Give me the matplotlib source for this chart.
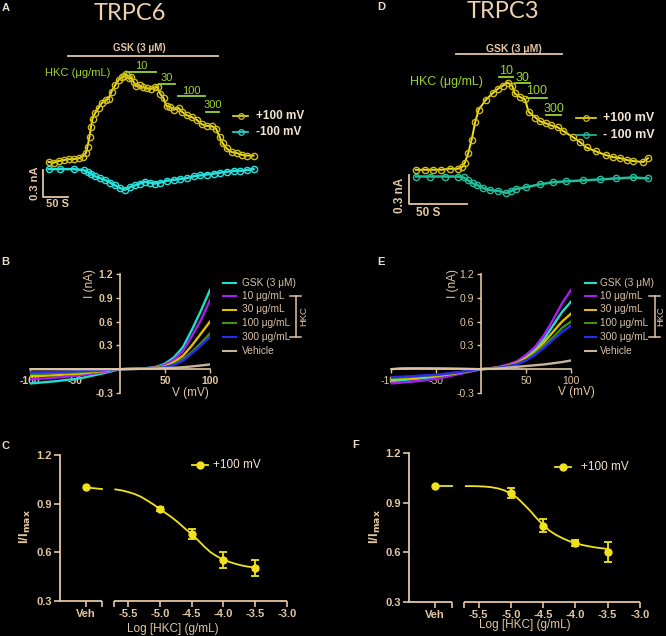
import matplotlib
matplotlib.use('Agg')
import matplotlib.pyplot as plt
from matplotlib.lines import Line2D

plt.rcParams['font.family'] = ['Liberation Sans', 'DejaVu Sans']

W, H = 666, 636
TAN = '#E3C6A2'
LIGHT = '#F2E4D2'
LEG = '#D8C2A6'
GREEN = '#9CD431'
YEL = '#F2E21E'
YEL_EDGE = '#D2BE12'
CYAN = '#26E2DC'
TEAL = '#1FBF9C'

# ---------------- A: TRPC6 time course (time in s, current in nA)
a_pos_t = [1, 11, 21, 31, 41, 51, 61, 69, 76, 79, 83, 86, 89, 94, 101, 107, 116, 121,
           127, 134, 141, 147, 152, 156, 161, 165, 171, 176, 183, 189, 197, 205, 214,
           219, 224, 231, 237, 244, 252, 261, 267, 277, 287, 297, 307, 317, 327, 336,
           343, 349, 357, 367, 377, 387, 397, 411]
a_pos_i = [0.09, 0.08, 0.10, 0.11, 0.12, 0.12, 0.13, 0.15, 0.19, 0.26, 0.37, 0.48, 0.57,
           0.63, 0.69, 0.74, 0.78, 0.79, 0.87, 0.94, 1.00, 1.03, 1.04, 1.07, 1.02, 1.03,
           0.98, 0.93, 0.94, 0.92, 0.91, 0.90, 0.92, 0.92, 0.85, 0.80, 0.71, 0.70, 0.67,
           0.69, 0.65, 0.61, 0.59, 0.56, 0.51, 0.49, 0.49, 0.46, 0.37, 0.30, 0.24, 0.20,
           0.19, 0.17, 0.16, 0.16]
a_neg_t = [1, 24, 51, 71, 79, 85, 94, 104, 114, 124, 134, 144, 154, 164, 174, 184, 194,
           204, 214, 224, 237, 251, 264, 277, 291, 304, 317, 331, 344, 357, 371, 384, 397, 411]
a_neg_i = [0.01, 0.01, 0.01, 0.0, -0.02, -0.04, -0.07, -0.09, -0.11, -0.14, -0.17, -0.20,
           -0.22, -0.19, -0.17, -0.15, -0.13, -0.14, -0.15, -0.14, -0.12, -0.11, -0.10,
           -0.09, -0.07, -0.06, -0.05, -0.04, -0.03, -0.02, -0.01, -0.01, 0.0, 0.01]

# ---------------- D: TRPC3 time course
d_pos_t = [0, 8, 15, 22, 29, 36, 40, 42, 45, 48, 51, 54, 60, 66, 71, 75, 79, 83, 85, 90,
           94, 97, 103, 107, 112, 116, 122, 127, 135, 141, 147, 155, 164, 170, 176, 182,
           187, 196, 200]
d_pos_i = [0.07, 0.07, 0.07, 0.07, 0.08, 0.08, 0.10, 0.14, 0.24, 0.38, 0.56, 0.69, 0.79,
           0.86, 0.91, 0.94, 0.97, 0.94, 0.86, 0.82, 0.80, 0.67, 0.61, 0.57, 0.55, 0.53,
           0.51, 0.47, 0.41, 0.36, 0.30, 0.26, 0.22, 0.20, 0.19, 0.17, 0.16, 0.15, 0.19]
d_neg_t = [0, 12, 25, 36, 41, 45, 49, 53, 58, 64, 71, 78, 82, 86, 95, 107, 118, 129, 144,
           159, 172, 187, 200]
d_neg_i = [0.0, 0.0, 0.0, 0.0, -0.01, -0.04, -0.07, -0.09, -0.12, -0.14, -0.15, -0.17,
           -0.15, -0.13, -0.11, -0.08, -0.06, -0.05, -0.04, -0.03, -0.02, -0.01, -0.02]

hkc_doses = ['10', '30', '100', '300']

# ---------------- B / E: I-V curves (mV, nA)
iv_v = [-100, -90, -80, -70, -60, -50, -40, -30, -20, -10, 0,
        10, 20, 30, 40, 50, 60, 70, 80, 90, 100]
b_gsk = [-0.18, -0.17, -0.16, -0.15, -0.135, -0.125, -0.105, -0.08, -0.055, -0.028, 0,
         0.005, 0.008, 0.015, 0.03, 0.07, 0.15, 0.28, 0.5, 0.74, 1.0]
b_10 = [-0.13, -0.12, -0.115, -0.105, -0.095, -0.085, -0.07, -0.055, -0.04, -0.02, 0,
        0.004, 0.007, 0.012, 0.025, 0.055, 0.12, 0.23, 0.42, 0.62, 0.87]
b_30 = [-0.09, -0.085, -0.08, -0.075, -0.065, -0.06, -0.05, -0.035, -0.025, -0.012, 0,
        0.003, 0.005, 0.01, 0.018, 0.035, 0.09, 0.17, 0.3, 0.45, 0.6]
b_100 = [-0.06, -0.055, -0.05, -0.048, -0.045, -0.04, -0.032, -0.025, -0.017, -0.008, 0,
         0.002, 0.004, 0.008, 0.013, 0.025, 0.065, 0.125, 0.22, 0.33, 0.45]
b_300 = [-0.04, -0.038, -0.036, -0.034, -0.03, -0.027, -0.022, -0.017, -0.012, -0.006, 0,
         0.002, 0.004, 0.007, 0.012, 0.022, 0.055, 0.105, 0.2, 0.3, 0.41]
b_veh = [0.0, 0.0, 0.0, 0.0, 0.0, 0.0, 0.0, 0.0, 0.0, 0.0, 0,
         0.002, 0.004, 0.006, 0.009, 0.013, 0.018, 0.025, 0.035, 0.047, 0.06]

e_gsk = [-0.15, -0.14, -0.13, -0.12, -0.11, -0.1, -0.085, -0.065, -0.045, -0.022, 0,
         0.01, 0.025, 0.05, 0.09, 0.16, 0.25, 0.38, 0.55, 0.72, 0.85]
e_10 = [-0.18, -0.17, -0.16, -0.15, -0.135, -0.12, -0.1, -0.075, -0.05, -0.025, 0,
        0.012, 0.03, 0.06, 0.1, 0.18, 0.28, 0.43, 0.62, 0.83, 1.0]
e_30 = [-0.13, -0.125, -0.115, -0.105, -0.095, -0.085, -0.072, -0.055, -0.038, -0.019, 0,
        0.01, 0.022, 0.045, 0.08, 0.14, 0.22, 0.34, 0.47, 0.6, 0.7]
e_100 = [-0.11, -0.105, -0.098, -0.09, -0.082, -0.074, -0.062, -0.048, -0.033, -0.016, 0,
         0.009, 0.02, 0.04, 0.07, 0.12, 0.2, 0.3, 0.4, 0.52, 0.6]
e_300 = [-0.1, -0.095, -0.09, -0.083, -0.076, -0.068, -0.057, -0.044, -0.03, -0.015, 0,
         0.008, 0.018, 0.036, 0.06, 0.11, 0.18, 0.27, 0.37, 0.47, 0.55]
e_veh = [0.0, 0.01, 0.012, 0.012, 0.012, 0.011, 0.01, 0.008, 0.006, 0.003, 0,
         0.005, 0.01, 0.02, 0.03, 0.04, 0.05, 0.06, 0.075, 0.09, 0.11]

iv_labels = ['GSK (3 μM)', '10 μg/mL', '30 μg/mL', '100 μg/mL', '300 μg/mL', 'Vehicle']
iv_colors = ['#1EE0CC', '#A81EEE', '#E2C000', '#3F9010', '#2A2AF0', '#C8B49A']

# ---------------- C / F: concentration response (log g/mL, I/Imax)
dr_x = [-5.0, -4.5, -4.0, -3.5]
c_mean = [0.867, 0.713, 0.553, 0.504]
c_err = [0.01, 0.03, 0.05, 0.05]
f_mean = [0.959, 0.76, 0.657, 0.60]
f_err = [0.03, 0.04, 0.02, 0.06]
veh_mean = 1.0
fit_x = [-5.7, -5.6, -5.5, -5.4, -5.3, -5.2, -5.1, -5.0, -4.9, -4.8, -4.7, -4.6,
         -4.5, -4.4, -4.3, -4.2, -4.1, -4.0, -3.9, -3.8, -3.7, -3.6, -3.5]
c_fit = [0.988, 0.982, 0.972, 0.96, 0.943, 0.92, 0.895, 0.867, 0.84, 0.812, 0.78, 0.745,
         0.713, 0.675, 0.635, 0.6, 0.575, 0.555, 0.54, 0.528, 0.518, 0.511, 0.506]
f_fit = [1.0, 1.0, 0.999, 0.997, 0.993, 0.986, 0.974, 0.955, 0.928, 0.89, 0.85, 0.805,
         0.765, 0.73, 0.705, 0.685, 0.668, 0.655, 0.645, 0.637, 0.63, 0.625, 0.62]
c_veh_line = [1.0, 0.99]
f_veh_line = [1.0, 1.0]
dr_ticks = [-5.5, -5.0, -4.5, -4.0, -3.5, -3.0]

fig = plt.figure(figsize=(W / 100, H / 100), dpi=100, facecolor='black')


def fx(x):
    return x / W


def fy(y):
    return 1 - y / H


def add_ax(x0, y0, x1, y1):
    ax = fig.add_axes([fx(x0), fy(y1), (x1 - x0) / W, (y1 - y0) / H])
    ax.set_facecolor('none')
    return ax


def trace_panel(box, xlim, ylim, pos, neg, neg_col):
    ax = add_ax(*box)
    ax.set_xlim(xlim)
    ax.set_ylim(ylim)
    ax.axis('off')
    ax.plot(neg[0], neg[1], color=neg_col, lw=1.8, marker='o', ms=4.5, mfc='none',
            mec=neg_col, mew=1.0)
    ax.plot(pos[0], pos[1], color=YEL, lw=1.4, marker='o', ms=4.5, mfc='none',
            mec=YEL_EDGE, mew=1.0)
    return ax


def dose_bars(ax, bars, fs):
    # bars: (t0, t1, y_bar, y_text, label)
    for t0, t1, yb, yt, lab in bars:
        ax.plot([t0, t1], [yb, yb], color=GREEN, lw=1.3)
        ax.text((t0 + t1) / 2, yt, lab, color=GREEN, fontsize=fs, ha='center', va='center')


def trace_legend(ax, t0, t1, tt, ys, labels, cols, edges, fs):
    for y, lab, c, e in zip(ys, labels, cols, edges):
        ax.plot([t0, t1], [y, y], color=c, lw=1.2)
        ax.plot([(t0 + t1) / 2], [y], 'o', ms=4, mfc='none', mec=e, mew=0.9)
        ax.text(tt, y, lab, color=LIGHT, fontsize=fs, fontweight='bold', va='center')


# ---- panel A
axA = trace_panel((0, 30, 333, 215), (-96, 570), (-0.5, 1.556),
                  (a_pos_t, a_pos_i), (a_neg_t, a_neg_i), CYAN)
axA.plot([40, 340], [1.27, 1.27], color=TAN, lw=1.3)
axA.text(182, 1.355, 'GSK (3 μM)', color=TAN, fontsize=7, fontweight='bold',
         ha='center', va='center')
axA.text(59, 1.078, 'HKC (μg/mL)', color=GREEN, fontsize=8, ha='center', va='center')
dose_bars(axA, [(158, 216, 1.092, 1.16, hkc_doses[0]),
                (222, 254, 0.956, 1.026, hkc_doses[1]),
                (260, 314, 0.822, 0.878, hkc_doses[2]),
                (316, 342, 0.648, 0.717, hkc_doses[3])], 8)
trace_legend(axA, 370, 400, 416, [0.6, 0.422], ['+100 mV', '-100 mV'],
             [YEL, CYAN], [YEL_EDGE, CYAN], 8.5)
axA.plot([-10, -10, 40], [0.0, -0.3, -0.3], color=TAN, lw=1.3)
axA.text(-26, -0.15, '0.3 nA', color=TAN, fontsize=8, fontweight='bold', rotation=90,
         ha='center', va='center')
axA.text(20, -0.38, '50 S', color=TAN, fontsize=8, fontweight='bold', ha='center', va='center')

# ---- panel D
axD = trace_panel((333, 30, 666, 215), (-71.5, 215.5), (-0.398, 1.515),
                  (d_pos_t, d_pos_i), (d_neg_t, d_neg_i), TEAL)
axD.plot([34.7, 126.1], [1.263, 1.263], color=TAN, lw=1.3)
axD.text(84, 1.318, 'GSK (3 μM)', color=TAN, fontsize=7.5, fontweight='bold',
         ha='center', va='center')
axD.text(26, 0.98, 'HKC (μg/mL)', color=GREEN, fontsize=9, ha='center', va='center')
dose_bars(axD, [(71.3, 83.6, 1.032, 1.094, hkc_doses[0]),
                (85.1, 98.0, 0.964, 1.022, hkc_doses[1]),
                (95.9, 112.7, 0.809, 0.884, hkc_doses[2]),
                (112.3, 125.2, 0.636, 0.701, hkc_doses[3])], 9)
trace_legend(axD, 138.2, 155.4, 161.2, [0.602, 0.429], ['+100 mV', '- 100 mV'],
             [YEL, TEAL], [YEL_EDGE, TEAL], 9)
axD.plot([-6, -6, 44], [0.015, -0.285, -0.285], color=TAN, lw=1.3)
axD.text(-13.8, -0.19, '0.3 nA', color=TAN, fontsize=8.5, fontweight='bold', rotation=90,
         ha='center', va='center')
axD.text(10.6, -0.38, '50 S', color=TAN, fontsize=8.5, fontweight='bold',
         ha='center', va='center')


# ---- I-V panels
def iv_panel(box, curves, bold):
    ax = add_ax(*box)
    ax.set_xlim(-100, 100)
    ax.set_ylim(-0.3, 1.2)
    ax.set_axisbelow(True)
    for s in ['top', 'right']:
        ax.spines[s].set_visible(False)
    for s in ['left', 'bottom']:
        ax.spines[s].set_color(TAN)
        ax.spines[s].set_linewidth(1.2)
        ax.spines[s].set_position(('data', 0))
    ax.set_xticks([-100, -50, 50, 100])
    ax.set_xticklabels(['-100', '-50', '50', '100'])
    ax.set_yticks([-0.3, 0, 0.3, 0.6, 0.9, 1.2])
    ax.set_yticklabels(['-0.3', '', '0.3', '0.6', '0.9', '1.2'])
    ax.tick_params(colors=TAN, labelsize=7.5, length=3, width=1, pad=2)
    for lab in ax.get_xticklabels() + ax.get_yticklabels():
        lab.set_fontweight('bold' if bold else 'normal')
    for vals, col in zip(curves, iv_colors):
        ax.plot(iv_v, vals, color=col, lw=1.7)
    return ax


def iv_legend(x0, x1, xt, rows, bx, hx):
    for y, lab, col in zip(rows, iv_labels, iv_colors):
        fig.add_artist(Line2D([fx(x0), fx(x1)], [fy(y), fy(y)], color=col, lw=1.5))
        fig.text(fx(xt), fy(y), lab, color=LEG, fontsize=7.3, va='center')
    yt, yb = rows[1], rows[4]
    fig.add_artist(Line2D([fx(bx), fx(bx)], [fy(yt), fy(yb)], color=TAN, lw=1.1))
    for y in (yt, yb):
        fig.add_artist(Line2D([fx(bx - 6), fx(bx + 5)], [fy(y), fy(y)], color=TAN, lw=1.1))
    fig.text(fx(hx), fy((yt + yb) / 2), 'HKC', color=LEG, fontsize=6.8, rotation=90,
             ha='center', va='center')


iv_rows = [283, 296, 309.5, 323, 337, 351]
iv_panel((30, 274, 210, 393), [b_gsk, b_10, b_30, b_100, b_300, b_veh], True)
iv_legend(223, 236, 242, iv_rows, 296, 304)
fig.text(fx(90), fy(283), 'I (nA)', color=TAN, fontsize=8.5, rotation=90, ha='center', va='center')
fig.text(fx(190), fy(393), 'V (mV)', color=TAN, fontsize=8.5, ha='center', va='center')

iv_panel((391, 274, 571, 393), [e_gsk, e_10, e_30, e_100, e_300, e_veh], False)
iv_legend(585, 596, 600, iv_rows, 655, 661)
fig.text(fx(453), fy(283), 'I (nA)', color=TAN, fontsize=8.5, rotation=90, ha='center', va='center')
fig.text(fx(576), fy(392), 'V (mV)', color=TAN, fontsize=8.5, ha='center', va='center')


# ---- concentration-response panels
def dose_panel(box, xlim, veh_x, seg1_end, seg2_start, mean, err, fit, veh_line, leg):
    ax = add_ax(*box)
    ax.set_xlim(xlim)
    ax.set_ylim(0.3, 1.2)
    for s in ['top', 'right', 'bottom']:
        ax.spines[s].set_visible(False)
    ax.spines['left'].set_color(TAN)
    ax.spines['left'].set_linewidth(1.3)
    ax.plot([xlim[0], seg1_end], [0.3, 0.3], color=TAN, lw=1.3, clip_on=False,
            solid_capstyle='butt')
    ax.plot([seg2_start, xlim[1]], [0.3, 0.3], color=TAN, lw=1.3, clip_on=False,
            solid_capstyle='butt')
    ax.set_xticks([veh_x, seg1_end, seg2_start] + dr_ticks)
    ax.set_xticklabels(['Veh', '', ''] + ['%.1f' % t for t in dr_ticks])
    ax.set_yticks([0.3, 0.6, 0.9, 1.2])
    ax.tick_params(colors=TAN, labelsize=8, length=4, width=1.2, pad=2)
    for lab in ax.get_xticklabels() + ax.get_yticklabels():
        lab.set_fontweight('bold')
    ax.plot(fit_x, fit, color=YEL, lw=1.3)
    ax.plot([veh_x, seg1_end], veh_line, color=YEL, lw=1.3)
    ax.plot([veh_x], [veh_mean], 'o', color=YEL, ms=5)
    ax.errorbar(dr_x, mean, yerr=err, fmt='o', color=YEL, ms=5, capsize=3,
                elinewidth=1.3, capthick=1.3)
    lx0, lx1, ly, tx = leg
    fig.add_artist(Line2D([fx(lx0), fx(lx1)], [fy(ly), fy(ly)], color=YEL, lw=1.3))
    fig.add_artist(Line2D([fx((lx0 + lx1) / 2)], [fy(ly)], marker='o', color=YEL, ms=5))
    fig.text(fx(tx), fy(ly), '+100 mV', color=LIGHT, fontsize=8.5, va='center')
    return ax


dose_panel((60, 455, 287, 601), (-6.57, -3.0), -6.16, -5.91, -5.72,
           c_mean, c_err, c_fit, c_veh_line, (192, 208, 465, 213))
fig.text(fx(25), fy(527), 'I/I$_{\\mathbf{max}}$', color=TAN, fontsize=9.5,
         fontweight='bold', rotation=90, ha='center', va='center')
fig.text(fx(173), fy(629), 'Log [HKC] (g/mL)', color=TAN, fontsize=8.5, ha='center', va='center')

dose_panel((409, 453, 640, 602), (-6.58, -3.0), -6.18, -5.91, -5.73,
           f_mean, f_err, f_fit, f_veh_line, (555, 571, 467, 581))
fig.text(fx(375), fy(527), 'I/I$_{\\mathbf{max}}$', color=TAN, fontsize=9.5,
         fontweight='bold', rotation=90, ha='center', va='center')
fig.text(fx(525), fy(625), 'Log [HKC] (g/mL)', color=TAN, fontsize=8.5, ha='center', va='center')

# ---- titles and panel letters
fig.text(fx(130), fy(14), 'TRPC6', color='#F0D2B0', fontsize=17, family='Lato',
         ha='center', va='center')
fig.text(fx(503), fy(12), 'TRPC3', color='#F0D2B0', fontsize=17, family='Lato',
         ha='center', va='center')
for lab, x, y in [('A', 6, 8), ('D', 381, 7), ('B', 5, 262), ('E', 381, 262),
                  ('C', 5, 446), ('F', 356, 445)]:
    fig.text(fx(x), fy(y), lab, color='#EADCCB', fontsize=8, fontweight='bold',
             ha='center', va='center')

fig.savefig('out.png', dpi=100, facecolor='black')
